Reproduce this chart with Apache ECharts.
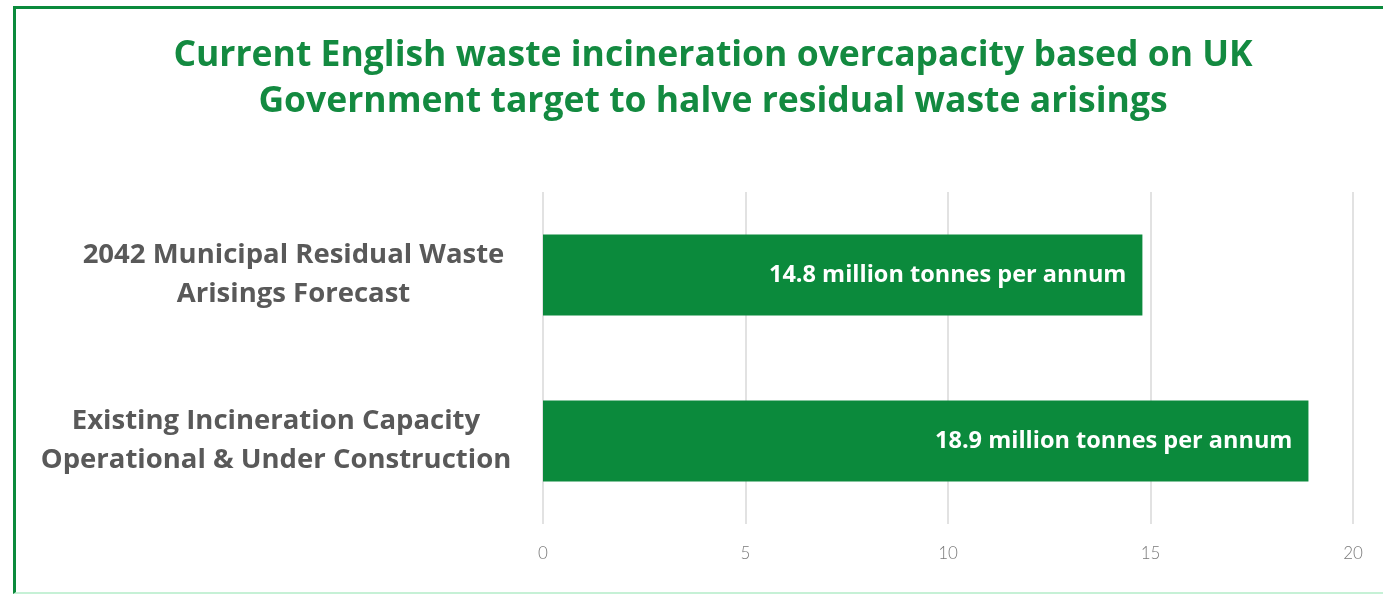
<!DOCTYPE html>
<html>
<head>
<meta charset="utf-8">
<title>English waste incineration overcapacity</title>
<script src="https://cdn.jsdelivr.net/npm/echarts@6/dist/echarts.min.js"></script>
<style>
  html, body { margin: 0; padding: 0; background: #ffffff; }
  #chart { position: absolute; left: 0; top: 0; width: 1383px; height: 597px; }
  #frame {
    position: absolute; left: 13px; top: 6px; width: 1370px; height: 588px;
    border-top: 3px solid #0b8a3c; border-left: 3px solid #0b8a3c;
    border-bottom: 2px solid #c6f1d6; pointer-events: none; box-sizing: border-box;
  }
</style>
</head>
<body>
<div id="chart"></div>
<div id="frame"></div>
<script>
// Categories (top to bottom) and values in million tonnes per annum
const categories = [
  ['2042 Municipal Residual Waste', 'Arisings Forecast'],
  ['Existing Incineration Capacity', 'Operational & Under Construction']
];
const values = [14.8, 18.9];
const valueLabels = ['14.8 million tonnes per annum', '18.9 million tonnes per annum'];
const xTicks = [0, 5, 10, 15, 20];

const titleText = 'Current English waste incineration overcapacity based on UK\nGovernment target to halve residual waste arisings';

const green = '#0b8a3c';
const catStyle = {
  fontFamily: 'Open Sans',
  fontWeight: 'bold',
  fontSize: 27.5,
  lineHeight: 39,
  color: '#595959',
  align: 'center'
};

const chart = echarts.init(document.getElementById('chart'), null, { renderer: 'canvas' });

chart.setOption({
  animation: false,
  backgroundColor: '#ffffff',
  title: {
    text: titleText,
    left: 708,
    top: 28,
    textAlign: 'center',
    textStyle: {
      fontFamily: 'Open Sans',
      fontWeight: 'bold',
      fontSize: 35.5,
      lineHeight: 46,
      color: '#138a40'
    }
  },
  grid: { left: 543, right: 30, top: 192, bottom: 73, outerBoundsMode: 'none' },
  xAxis: {
    type: 'value',
    min: xTicks[0],
    max: xTicks[xTicks.length - 1],
    interval: 5,
    axisLine: { show: false },
    axisTick: { show: false },
    splitLine: { show: true, lineStyle: { color: '#d9d9d9', width: 1.5 } },
    axisLabel: {
      margin: 21,
      fontFamily: 'Lato',
      fontWeight: 300,
      fontSize: 17,
      color: '#7a7a7a'
    }
  },
  yAxis: {
    type: 'category',
    inverse: true,
    data: categories.map(c => c.join('\n')),
    axisLine: { show: false },
    axisTick: { show: false },
    axisLabel: {
      margin: 31,
      align: 'right',
      // each line is centred inside a box as wide as the block's longest line
      formatter: (v, i) => {
        const key = i === 0 ? 'a' : 'b';
        return v.split('\n').map(s => '{' + key + '|' + s + '}').join('\n');
      },
      rich: {
        a: Object.assign({ width: 437 }, catStyle),
        b: Object.assign({ width: 472 }, catStyle)
      }
    }
  },
  series: [{
    type: 'bar',
    data: values,
    barWidth: 81,
    itemStyle: { color: green },
    label: {
      show: true,
      position: 'insideRight',
      distance: 16,
      formatter: p => valueLabels[p.dataIndex],
      fontFamily: 'Open Sans',
      fontWeight: 'bold',
      fontSize: 23.5,
      color: '#ffffff'
    }
  }]
});
</script>
</body>
</html>
